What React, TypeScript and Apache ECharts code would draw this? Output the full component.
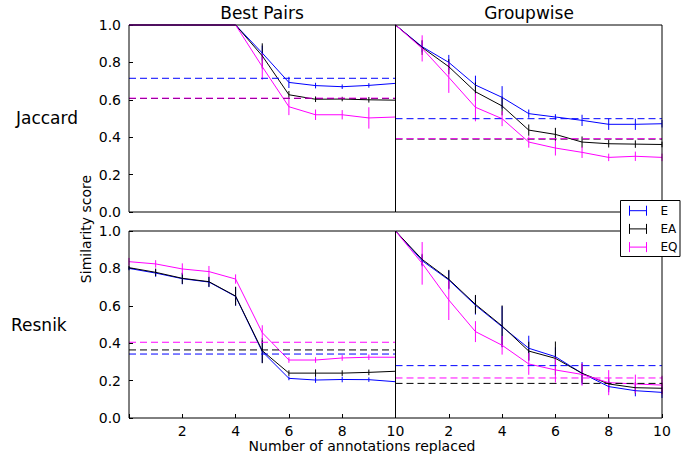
import React, { useEffect, useRef } from "react";
import * as echarts from "echarts";

// ---- data ----
const xValues = [0, 1, 2, 3, 4, 5, 6, 7, 8, 9, 10];
const seriesNames = ["E", "EA", "EQ"];
const seriesColors = ["#0000ff", "#000000", "#ff00ff"];
const columnTitles = ["Best Pairs", "Groupwise"];
const rowTitles = ["Jaccard", "Resnik"];
const yTickValues = [0, 0.2, 0.4, 0.6, 0.8, 1.0];
const xTickLabels = ["", "2", "4", "6", "8", "10"];

// Jaccard – Best Pairs
const jacBestE = [1, 1, 1, 1, 1, 0.85, 0.693, 0.676, 0.67, 0.677, 0.688];
const jacBestEA = [1, 1, 1, 1, 1, 0.835, 0.627, 0.603, 0.604, 0.6, 0.598];
const jacBestEQ = [1, 1, 1, 1, 1, 0.777, 0.563, 0.52, 0.52, 0.503, 0.508];
const jacBestEErr = [0, 0, 0, 0, 0, 0.04, 0.03, 0.015, 0.012, 0.012, 0.012];
const jacBestEAErr = [0, 0, 0, 0, 0, 0.067, 0.02, 0.015, 0.012, 0.015, 0.012];
const jacBestEQErr = [0, 0, 0, 0, 0, 0.07, 0.045, 0.028, 0.025, 0.057, 0.04];
const jacBestRef = [0.715, 0.607, 0.609];

// Jaccard – Groupwise
const jacGroupE = [1, 0.884, 0.8, 0.679, 0.613, 0.526, 0.508, 0.49, 0.469, 0.469, 0.472];
const jacGroupEA = [1, 0.88, 0.777, 0.643, 0.567, 0.438, 0.415, 0.374, 0.365, 0.363, 0.361];
const jacGroupEQ = [1, 0.875, 0.72, 0.56, 0.499, 0.374, 0.342, 0.319, 0.292, 0.298, 0.292];
const jacGroupEErr = [0, 0.03, 0.04, 0.05, 0.06, 0.022, 0.015, 0.03, 0.03, 0.03, 0.02];
const jacGroupEAErr = [0, 0.04, 0.04, 0.05, 0.05, 0.03, 0.035, 0.03, 0.02, 0.02, 0.015];
const jacGroupEQErr = [0, 0.07, 0.083, 0.075, 0.04, 0.03, 0.04, 0.03, 0.02, 0.025, 0.02];
const jacGroupRef = [0.499, 0.39, 0.392];

// Resnik – Best Pairs
const resBestE = [0.8, 0.775, 0.745, 0.727, 0.65, 0.355, 0.212, 0.203, 0.206, 0.205, 0.194];
const resBestEA = [0.804, 0.779, 0.747, 0.729, 0.652, 0.36, 0.24, 0.24, 0.24, 0.244, 0.25];
const resBestEQ = [0.836, 0.824, 0.797, 0.783, 0.743, 0.456, 0.31, 0.31, 0.321, 0.325, 0.325];
const resBestEErr = [0.01, 0.02, 0.03, 0.027, 0.05, 0.06, 0.01, 0.015, 0.015, 0.012, 0.01];
const resBestEAErr = [0.01, 0.02, 0.03, 0.027, 0.05, 0.067, 0.015, 0.02, 0.015, 0.015, 0.01];
const resBestEQErr = [0.02, 0.02, 0.03, 0.03, 0.025, 0.04, 0.015, 0.015, 0.015, 0.015, 0.01];
const resBestRef = [0.342, 0.364, 0.405];

// Resnik – Groupwise
const resGroupE = [1, 0.841, 0.738, 0.603, 0.488, 0.373, 0.328, 0.239, 0.168, 0.146, 0.137];
const resGroupEA = [1, 0.848, 0.742, 0.608, 0.492, 0.358, 0.319, 0.239, 0.182, 0.162, 0.159];
const resGroupEQ = [1, 0.827, 0.631, 0.462, 0.389, 0.289, 0.257, 0.233, 0.189, 0.182, 0.176];
const resGroupEErr = [0, 0.03, 0.05, 0.05, 0.11, 0.067, 0.05, 0.06, 0.03, 0.03, 0.03];
const resGroupEAErr = [0, 0.03, 0.05, 0.05, 0.11, 0.05, 0.09, 0.05, 0.03, 0.03, 0.03];
const resGroupEQErr = [0, 0.114, 0.107, 0.056, 0.05, 0.058, 0.067, 0.06, 0.067, 0.05, 0.05];
const resGroupRef = [0.28, 0.185, 0.214];

const panels = [
  { values: [jacBestE, jacBestEA, jacBestEQ], errs: [jacBestEErr, jacBestEAErr, jacBestEQErr], refs: jacBestRef },
  { values: [jacGroupE, jacGroupEA, jacGroupEQ], errs: [jacGroupEErr, jacGroupEAErr, jacGroupEQErr], refs: jacGroupRef },
  { values: [resBestE, resBestEA, resBestEQ], errs: [resBestEErr, resBestEAErr, resBestEQErr], refs: resBestRef },
  { values: [resGroupE, resGroupEA, resGroupEQ], errs: [resGroupEErr, resGroupEAErr, resGroupEQErr], refs: resGroupRef },
];

const FONT = "DejaVu Sans";

export default function App() {
  const ref = useRef<HTMLDivElement>(null);

  useEffect(() => {
    document.body.style.margin = "0";
    if (!ref.current) return;
    const chart = echarts.init(ref.current, undefined, { renderer: "svg" });

    const gridLefts = [129, 395.5];
    const gridTops = [25, 231];
    const gw = 266.5;
    const gh = 187;

    const grids: any[] = [];
    const xAxes: any[] = [];
    const yAxes: any[] = [];
    const series: any[] = [];
    const borders: any[] = [];

    panels.forEach((p, i) => {
      const row = Math.floor(i / 2);
      const col = i % 2;
      grids.push({
        left: gridLefts[col],
        top: gridTops[row],
        width: gw,
        height: gh,
        show: false,
      });
      borders.push({
        type: "rect",
        z: 50,
        shape: { x: gridLefts[col], y: gridTops[row], width: gw, height: gh },
        style: { fill: "none", stroke: "#000", lineWidth: 1 },
      });
      xAxes.push({
        type: "value",
        gridIndex: i,
        min: 0,
        max: 10,
        interval: 2,
        axisLine: { show: false },
        splitLine: { show: false },
        axisTick: { show: row === 1, inside: true, length: 4, lineStyle: { color: "#000" } },
        axisLabel: {
          show: row === 1,
          fontFamily: FONT,
          fontSize: 14,
          color: "#000",
          margin: 6,
          formatter: (v: number) => xTickLabels[Math.round(v / 2)],
        },
      });
      yAxes.push({
        type: "value",
        gridIndex: i,
        min: yTickValues[0],
        max: yTickValues[yTickValues.length - 1],
        interval: 0.2,
        axisLine: { show: false },
        splitLine: { show: false },
        axisTick: { show: col === 0, inside: true, length: 4, lineStyle: { color: "#000" } },
        axisLabel: {
          show: col === 0,
          fontFamily: FONT,
          fontSize: 14,
          color: "#000",
          margin: 8,
          formatter: (v: number) => v.toFixed(1),
        },
      });

      p.values.forEach((vals, k) => {
        const color = seriesColors[k];
        series.push({
          type: "line",
          name: seriesNames[k],
          xAxisIndex: i,
          yAxisIndex: i,
          data: xValues.map((x, j) => [x, vals[j]]),
          symbol: "none",
          lineStyle: { color, width: 1 },
          clip: false,
        });
        series.push({
          type: "custom",
          xAxisIndex: i,
          yAxisIndex: i,
          data: xValues.map((x, j) => [x, vals[j] - p.errs[k][j], vals[j] + p.errs[k][j]]),
          encode: { x: 0, y: [1, 2] },
          clip: false,
          renderItem: (params: any, api: any) => {
            const lo = api.value(1);
            const hi = api.value(2);
            if (hi - lo <= 0) return null;
            const a = api.coord([api.value(0), lo]);
            const b = api.coord([api.value(0), hi]);
            return {
              type: "line",
              shape: { x1: a[0], y1: a[1], x2: b[0], y2: b[1] },
              style: { stroke: color, lineWidth: 1 },
            };
          },
        });
      });
      p.refs.forEach((r, k) => {
        series.push({
          type: "line",
          xAxisIndex: i,
          yAxisIndex: i,
          data: [
            [xValues[0], r],
            [xValues[xValues.length - 1], r],
          ],
          symbol: "none",
          lineStyle: { color: seriesColors[k], width: 1, type: [7, 4] },
        });
      });
    });

    const LZ = 200;
    const legendX = 620.5;
    const legendY = 200.5;
    const legendEls: any[] = [
      {
        type: "rect",
        z: LZ,
        shape: { x: legendX, y: legendY, width: 59.5, height: 56 },
        style: { fill: "#fff", stroke: "#000", lineWidth: 1 },
      },
    ];
    seriesNames.forEach((n, k) => {
      const cy = 210.7 + k * 18.2;
      const c = seriesColors[k];
      legendEls.push(
        { type: "line", z: LZ + 1, shape: { x1: 629, y1: cy, x2: 647, y2: cy }, style: { stroke: c, lineWidth: 1 } },
        { type: "line", z: LZ + 1, shape: { x1: 629.5, y1: cy - 5, x2: 629.5, y2: cy + 5 }, style: { stroke: c, lineWidth: 1 } },
        { type: "line", z: LZ + 1, shape: { x1: 646.5, y1: cy - 5, x2: 646.5, y2: cy + 5 }, style: { stroke: c, lineWidth: 1 } },
        {
          type: "text",
          z: LZ + 1,
          x: 660.5,
          y: cy,
          style: { text: n, fontFamily: FONT, fontSize: 12, fill: "#000", verticalAlign: "middle", align: "left" },
        }
      );
    });

    const textStyle = (text: string, size: number, align: string = "center") => ({
      text,
      fontFamily: FONT,
      fontSize: size,
      fill: "#000",
      align,
      verticalAlign: "middle",
    });

    chart.setOption({
      animation: false,
      backgroundColor: "#fff",
      grid: grids,
      xAxis: xAxes,
      yAxis: yAxes,
      series,
      graphic: [
        ...borders,
        { type: "text", x: 262, y: 13, style: textStyle(columnTitles[0], 17) },
        { type: "text", x: 529, y: 13, style: textStyle(columnTitles[1], 17) },
        { type: "text", x: 16, y: 118, style: textStyle(rowTitles[0], 17, "left") },
        { type: "text", x: 11, y: 325, style: textStyle(rowTitles[1], 17, "left") },
        { type: "text", x: 86, y: 229, rotation: Math.PI / 2, style: textStyle("Similarity score", 14) },
        { type: "text", x: 362, y: 446, style: textStyle("Number of annotations replaced", 14) },
        ...legendEls,
      ],
    });

    return () => chart.dispose();
  }, []);

  return <div ref={ref} style={{ width: 693, height: 455 }} />;
}
